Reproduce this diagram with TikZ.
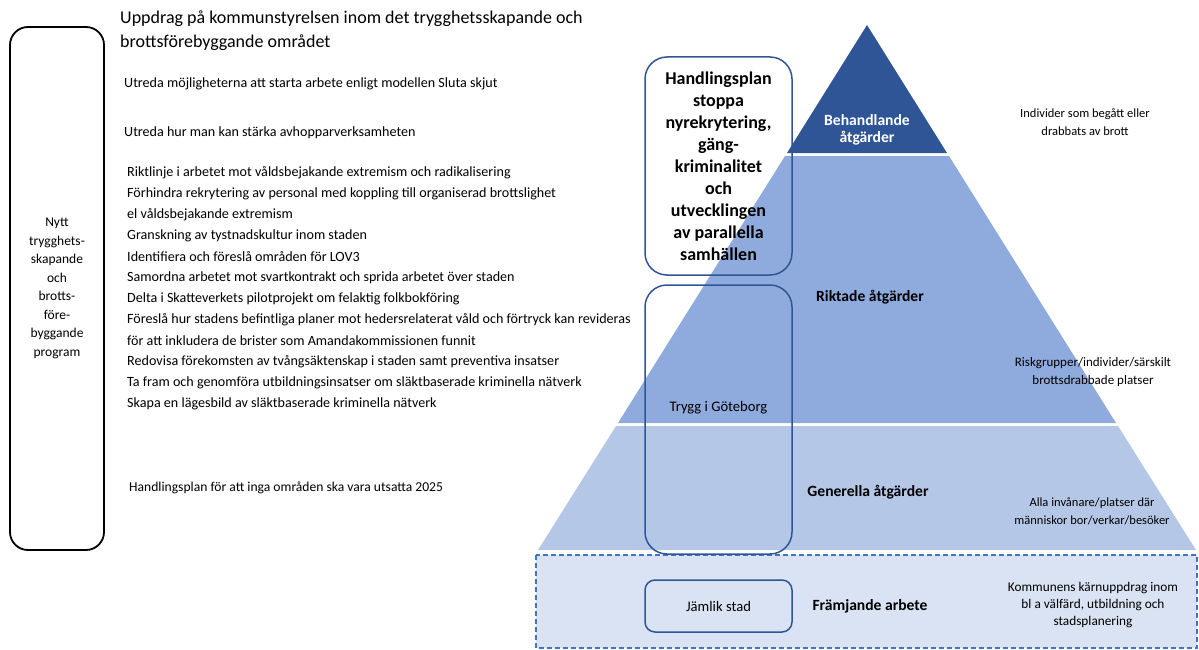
\documentclass[tikz,border=0pt]{standalone}
\usepackage{fontspec}
\setmainfont{Carlito}
\definecolor{tierA}{HTML}{2F5597}
\definecolor{tierB}{HTML}{8FAADC}
\definecolor{tierC}{HTML}{B4C7E7}
\definecolor{tierD}{HTML}{DAE3F3}
\definecolor{boxline}{HTML}{2F5597}
\definecolor{dashline}{HTML}{4472C4}
\tikzset{
	progbox/.style={draw=black, line width=1.8pt, rounded corners=18pt, align=center,
		minimum width=94pt, minimum height=523pt, font=\fontsize{13.5}{18.5}\selectfont},
	planbox/.style={draw=boxline, line width=1.5pt, rounded corners=22pt, align=center,
		minimum width=147pt, inner sep=0pt},
	listtext/.style={anchor=west, inner sep=0pt, font=\fontsize{14.1}{15}\selectfont},
	sidetext/.style={align=center, inner sep=0pt, font=\fontsize{12.5}{18}\selectfont},
	tierlabel/.style={align=center, inner sep=0pt, font=\bfseries\fontsize{15.6}{17}\selectfont}
}
\begin{document}
\begin{tikzpicture}[x=1pt, y=-1pt]
	\useasboundingbox (0, 0) rectangle (1199, 650);

	\fill[tierA] (867, 25) -- (947, 153) -- (787, 153) -- cycle;
	\fill[tierB] (785, 156) -- (949, 156) -- (1116, 423) -- (618, 423) -- cycle;
	\fill[tierC] (616, 426) -- (1118, 426) -- (1196, 550) -- (538, 550) -- cycle;
	\draw[dashline, fill=tierD, line width=1.3pt, dash pattern=on 5pt off 3pt] (536, 555) rectangle (1197, 648);

	\node[progbox] (prog) at (57, 288.5) {Nytt\\trygghets-\\skapande\\och\\brotts-\\före-\\byggande\\program};

	\node[anchor=west, inner sep=0pt, align=left, font=\fontsize{18}{24}\selectfont] (title) at (120, 31)
		{Uppdrag på kommunstyrelsen inom det trygghetsskapande och\\brottsförebyggande området};

	\node[listtext] (sluta) at (124, 84) {Utreda möjligheterna att starta arbete enligt modellen Sluta skjut};
	\node[listtext] (avhopp) at (124, 133) {Utreda hur man kan stärka avhopparverksamheten};
	\foreach \txt [count=\k from 0] in {
			Riktlinje i arbetet mot våldsbejakande extremism och radikalisering,
			Förhindra rekrytering av personal med koppling till organiserad brottslighet,
			el våldsbejakande extremism,
			Granskning av tystnadskultur inom staden,
			Identifiera och föreslå områden för LOV3,
			Samordna arbetet mot svartkontrakt och sprida arbetet över staden,
			Delta i Skatteverkets pilotprojekt om felaktig folkbokföring,
			Föreslå hur stadens befintliga planer mot hedersrelaterat våld och förtryck kan revideras,
			för att inkludera de brister som Amandakommissionen funnit,
			Redovisa förekomsten av tvångsäktenskap i staden samt preventiva insatser,
			Ta fram och genomföra utbildningsinsatser om släktbaserade kriminella nätverk,
			Skapa en lägesbild av släktbaserade kriminella nätverk}{
			\node[listtext] (item\k) at (127, 173 + 21*\k) {\txt};
		}
	\node[listtext, font=\fontsize{13.6}{15}\selectfont] (utsatta) at (129, 488) {Handlingsplan för att inga områden ska vara utsatta 2025};

	\node[planbox, minimum height=218pt, font=\bfseries\fontsize{18}{22}\selectfont] (hplan) at (718.5, 166)
		{Handlingsplan\\stoppa\\nyrekrytering,\\gäng-\\kriminalitet\\och\\utvecklingen\\av parallella\\samhällen};
	\node[planbox, minimum height=269pt] (trygg) at (718.5, 419.5) {};
	\node[inner sep=0pt, font=\fontsize{14.6}{15}\selectfont] (tryggtxt) at (718.5, 408) {Trygg i Göteborg};
	\node[planbox, rounded corners=10pt, minimum height=52pt, font=\fontsize{14.6}{15}\selectfont] (jamlik) at (718.5, 606) {Jämlik stad};

	\node[tierlabel, text=white] (behand) at (867, 129.5) {Behandlande\\åtgärder};
	\node[tierlabel] (riktade) at (870, 297) {Riktade åtgärder};
	\node[tierlabel] (generella) at (868, 492) {Generella åtgärder};
	\node[tierlabel] (framj) at (870, 606) {Främjande arbete};

	\node[sidetext] (descA) at (1085, 122) {Individer som begått eller\\drabbats av brott};
	\node[sidetext, font=\fontsize{13}{18}\selectfont] (descB) at (1093, 372) {Riskgrupper/individer/särskilt\\brottsdrabbade platser};
	\node[sidetext] (descC) at (1092, 511.5) {Alla invånare/platser där\\människor bor/verkar/besöker};
	\node[sidetext, font=\fontsize{13.3}{17}\selectfont] (descD) at (1093, 605) {Kommunens kärnuppdrag inom\\bl a välfärd, utbildning och\\stadsplanering};
\end{tikzpicture}
\end{document}
